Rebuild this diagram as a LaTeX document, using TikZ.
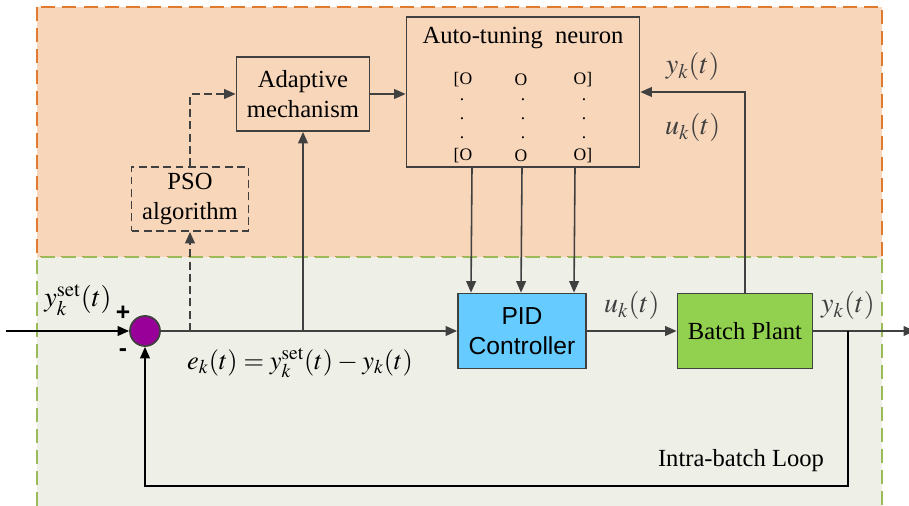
\documentclass[tikz,border=0pt]{standalone}
\usepackage{mathptmx}
\usepackage{fontspec}
\setmainfont{Liberation Serif}
\setsansfont{Liberation Sans}
\usetikzlibrary{arrows.meta,calc}

\definecolor{tuneback}{RGB}{248,214,186}
\definecolor{tuneedge}{RGB}{224,122,46}
\definecolor{loopback}{RGB}{238,240,231}
\definecolor{loopedge}{RGB}{155,187,89}
\definecolor{pidblue}{RGB}{102,204,255}
\definecolor{plantgreen}{RGB}{146,208,80}
\definecolor{sumpurple}{RGB}{153,0,153}
\definecolor{wire}{RGB}{64,64,64}

\begin{document}
\begin{tikzpicture}[x=0.02cm, y=-0.02cm,
  box/.style={draw=wire, line width=1pt, rectangle, align=center, inner sep=2pt,
              font=\fontsize{14}{17}\selectfont},
  ar/.style={-{Triangle[length=6.5pt,width=5.5pt]}, wire, line width=0.9pt},
  blk/.style={-{Triangle[length=6.5pt,width=5.5pt]}, black, line width=0.9pt},
  dar/.style={ar, dash pattern=on 4.5pt off 2.5pt},
  lab/.style={font=\fontsize{16}{18}\selectfont, inner sep=2pt},
  wt/.style={font=\fontsize{10}{12}\selectfont, inner sep=0pt},
  sgn/.style={font=\sffamily\bfseries\fontsize{14}{16}\selectfont, inner sep=0pt},
  region/.style={line width=1.1pt, dash pattern=on 8pt off 4pt},
]
\useasboundingbox (0,0) rectangle (909,506);

% tuning layer and batch loop layer
\fill[tuneback] (37,7) rectangle (882,257);
\draw[region, tuneedge] (37,7) rectangle (882,257);
\fill[loopback] (37,257) rectangle (882,506);
\draw[region, loopedge] (37,506) -- (37,257) -- (882,257) -- (882,506);

% blocks
\node[box, minimum width=2.66cm, minimum height=1.48cm] (adp) at (303,94) {Adaptive\\mechanism};
\node[box, minimum width=4.66cm, minimum height=3cm] (neu) at (523,92) {};
\node[font=\fontsize{14}{16}\selectfont, inner sep=0pt] (neutitle) at (523,38) {Auto-tuning\ \ neuron};
\node[box, dash pattern=on 4.5pt off 2.5pt, minimum width=2.34cm, minimum height=1.28cm] (pso) at (190,199) {PSO\\algorithm};
\node[box, fill=pidblue, font=\sffamily\fontsize{14}{17}\selectfont,
      minimum width=2.56cm, minimum height=1.5cm] (pid) at (522,331) {PID\\Controller};
\node[box, fill=plantgreen, minimum width=2.7cm, minimum height=1.5cm] (bp) at (745,331) {Batch Plant};
\node[circle, draw=wire, line width=1pt, fill=sumpurple, minimum size=0.6cm, inner sep=0pt] (sum) at (145,331) {};

% weight matrix inside the neuron
\foreach \r/\y in {a/80,b/156} {
  \node[wt] (w\r1) at (463,\y) {[O};
  \node[wt] (w\r2) at (521,\y) {O};
  \node[wt] (w\r3) at (583,\y) {O]};
}
\foreach \y in {100,119,138}
  \foreach \x in {462,523,584}
    \node[wt] (d\x-\y) at (\x,\y) {.};

% signal points
\coordinate (in) at (6,331);
\coordinate (b1) at (190,331);
\coordinate (b2) at (303,331);
\coordinate (fb) at (848,331);
\coordinate (fbl) at (848,486);
\coordinate (out) at (915,331);

% connections
\draw[blk] (in) -- (sum.west);
\draw[ar] (sum.east) -- (pid.west);
\draw[dar] (b1) -- (pso.south);
\draw[dar] (pso.north) |- (adp.west);
\draw[ar] (b2) -- (adp.south);
\draw[ar] (adp.east) -- (adp.east -| neu.west);
\foreach \dx in {-51,-1,52}
  \draw[ar] ($(neu.south)+(\dx,0)$) -- ($(pid.north)+(\dx,0)$);
\draw[ar] (pid.east) -- node[lab, above=4pt] (ulab) {$u_k(t)$} (bp.west);
\draw[ar] (bp.east) -- (fb) node[lab, above=4pt] (ylab) {$y_k(t)$} -- (out);
\draw[blk] (fb) -- (fbl) -| (sum.south);
\draw[ar] (bp.north) |- node[lab, pos=0.75, above=4pt] (yfb) {$y_k(t)$}
                        node[lab, pos=0.75, below=10pt] (ufb) {$u_k(t)$} (neu.east);

% signs and signal labels
\node[sgn] (plus) at (123,313) {+};
\node[sgn] (minus) at (123,353) {-};
\node[lab] (ysetlab) at (78,300) {$y_k^{\mathrm{set}}(t)$};
\node[lab, font=\fontsize{15}{18}\selectfont] (elab) at (300,363)
  {\medmuskip=3mu\thickmuskip=4mu$e_k(t)=y_k^{\mathrm{set}}(t)-y_k(t)$};
\node[font=\fontsize{14}{16}\selectfont, inner sep=0pt] (looplab) at (741,461) {Intra-batch Loop};
\end{tikzpicture}
\end{document}
